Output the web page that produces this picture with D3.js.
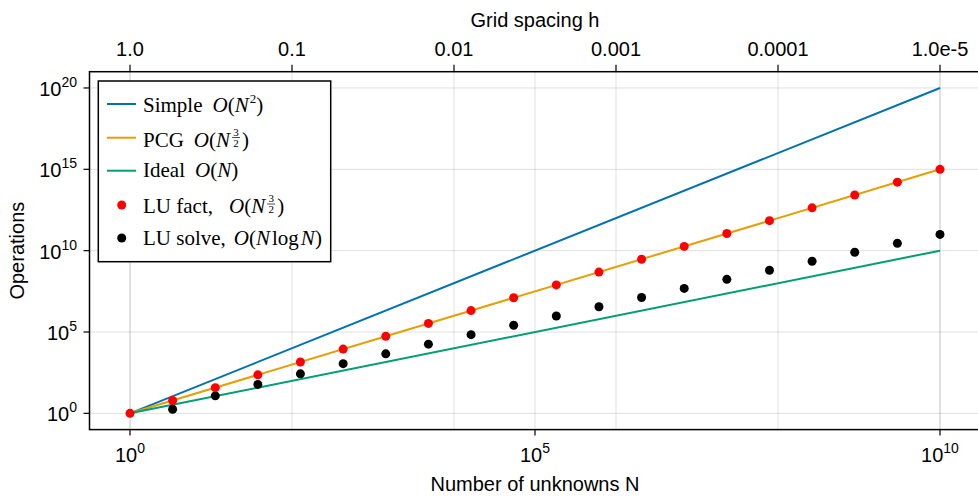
<!DOCTYPE html>
<html>
<head>
<meta charset="utf-8">
<script src="https://cdn.jsdelivr.net/npm/d3@7"></script>
<style>
  body { margin: 0; background: #fff; }
  svg { display: block; }
</style>
</head>
<body>
<svg id="plotSvg"></svg>
<script>
// problem sizes N (log spaced)
var unknowns = [1, 3.36, 11.3, 37.9, 127, 428, 1438, 4833, 16238, 54556, 183298,
  615848, 2069138, 6951928, 23357215, 78475997, 263665090, 885866790, 2976351442, 1e10];
var luFact = [1, 6.16, 37.9, 233, 1438, 8859, 54556, 3.36e5, 2.07e6, 1.27e7, 7.85e7,
  4.83e8, 2.98e9, 1.83e10, 1.13e11, 6.95e11, 4.28e12, 2.64e13, 1.62e14, 1e15];
var luSolve = [null, 1.77, 11.9, 59.9, 268, 1127, 4541, 17805, 68370, 258400, 964700,
  3.57e6, 1.31e7, 4.76e7, 1.72e8, 6.20e8, 2.22e9, 7.93e9, 2.82e10, 1e11];
// straight reference lines (endpoints)
var lineN = [1, 1e10];
var simpleOps = [1, 1e20];
var pcgOps = [1, 1e15];
var idealOps = [1, 1e10];

var bottomTicks = [1, 1e5, 1e10];
var bottomTickExp = ["0", "5", "10"];
var leftTicks = [1, 1e5, 1e10, 1e15, 1e20];
var leftTickExp = ["0", "5", "10", "15", "20"];
var topTicks = [1, 0.1, 0.01, 0.001, 0.0001, 1e-5];
var topTickLabels = ["1.0", "0.1", "0.01", "0.001", "0.0001", "1.0e-5"];

var W = 978, H = 496;
var svg = d3.select("#plotSvg").attr("width", W).attr("height", H);
var sans = "'Liberation Sans', Arial, sans-serif";
var serif = "'Liberation Serif', 'DejaVu Serif', serif";

var pL = 89.5, pR = 980.5, pT = 71.7, pB = 429.6;

var x = d3.scaleLog().domain([Math.pow(10, -0.5), Math.pow(10, 10.5)]).range([pL, pR]);
var y = d3.scaleLog().domain([Math.pow(10, -1), Math.pow(10, 21)]).range([pB, pT]);
// h = 1/sqrt(N)
var xh = d3.scaleLog().domain([Math.pow(10, 0.25), Math.pow(10, -5.25)]).range([pL, pR]);

var g = svg.append("g");

// grid
function vgrid(data, sc) {
  g.selectAll(null).data(data).enter().append("line")
    .attr("x1", function(d) { return sc(d); }).attr("x2", function(d) { return sc(d); })
    .attr("y1", pT).attr("y2", pB)
    .attr("stroke", "#000").attr("stroke-opacity", 0.12).attr("stroke-width", 1);
}
vgrid(bottomTicks, x);
vgrid(topTicks, xh);
g.selectAll(null).data(leftTicks).enter().append("line")
  .attr("x1", pL).attr("x2", pR)
  .attr("y1", function(d) { return y(d); }).attr("y2", function(d) { return y(d); })
  .attr("stroke", "#000").attr("stroke-opacity", 0.12).attr("stroke-width", 1);

// lines
var line = d3.line()
  .x(function(d) { return x(d[0]); })
  .y(function(d) { return y(d[1]); });
var lines = [
  { ops: simpleOps, color: "#0072b2" },
  { ops: pcgOps, color: "#e69f00" },
  { ops: idealOps, color: "#009e73" }
];
lines.forEach(function(l) {
  g.append("path")
    .attr("d", line(d3.zip(lineN, l.ops)))
    .attr("fill", "none")
    .attr("stroke", l.color)
    .attr("stroke-width", 2);
});

// markers
g.selectAll(null).data(d3.zip(unknowns, luSolve).filter(function(d) { return d[1]; }))
  .enter().append("circle")
  .attr("cx", function(d) { return x(d[0]); })
  .attr("cy", function(d) { return y(d[1]); })
  .attr("r", 4.5).attr("fill", "#000");
g.selectAll(null).data(d3.zip(unknowns, luFact))
  .enter().append("circle")
  .attr("cx", function(d) { return x(d[0]); })
  .attr("cy", function(d) { return y(d[1]); })
  .attr("r", 4.5).attr("fill", "#ff0000");

// frame
g.append("rect").attr("x", pL).attr("y", pT)
  .attr("width", pR - pL).attr("height", pB - pT)
  .attr("fill", "none").attr("stroke", "#000").attr("stroke-width", 1.5);

var tfs = 20;
// bottom axis
bottomTicks.forEach(function(t, i) {
  var px = x(t);
  g.append("line").attr("x1", px).attr("x2", px).attr("y1", pB).attr("y2", pB + 6)
    .attr("stroke", "#000").attr("stroke-width", 1.2);
  var tx = g.append("text").attr("x", px).attr("y", 462)
    .attr("font-family", sans).attr("font-size", tfs).attr("text-anchor", "middle");
  tx.append("tspan").text("10");
  tx.append("tspan").attr("dy", -9).attr("font-size", 14).text(bottomTickExp[i]);
});
// left axis
leftTicks.forEach(function(t, i) {
  var py = y(t);
  g.append("line").attr("x1", pL - 6).attr("x2", pL).attr("y1", py).attr("y2", py)
    .attr("stroke", "#000").attr("stroke-width", 1.2);
  var tx = g.append("text").attr("x", 77).attr("y", py + 8)
    .attr("font-family", sans).attr("font-size", tfs).attr("text-anchor", "end");
  tx.append("tspan").text("10");
  tx.append("tspan").attr("dy", -9).attr("font-size", 14).text(leftTickExp[i]);
});
// top axis
topTicks.forEach(function(t, i) {
  var px = xh(t);
  g.append("line").attr("x1", px).attr("x2", px).attr("y1", pT - 7).attr("y2", pT)
    .attr("stroke", "#000").attr("stroke-width", 1.2);
  g.append("text").attr("x", px).attr("y", 56)
    .attr("font-family", sans).attr("font-size", tfs).attr("text-anchor", "middle")
    .text(topTickLabels[i]);
});

// axis titles
svg.append("text").attr("x", 535).attr("y", 27)
  .attr("font-family", sans).attr("font-size", tfs).attr("text-anchor", "middle")
  .text("Grid spacing h");
svg.append("text").attr("x", 535).attr("y", 491)
  .attr("font-family", sans).attr("font-size", tfs).attr("text-anchor", "middle")
  .text("Number of unknowns N");
svg.append("text").attr("transform", "translate(24," + ((pT + pB) / 2) + ") rotate(-90)")
  .attr("font-family", sans).attr("font-size", tfs).attr("text-anchor", "middle")
  .text("Operations");

// legend
var lg = svg.append("g");
lg.append("rect").attr("x", 98.3).attr("y", 81).attr("width", 232.4).attr("height", 180.7)
  .attr("fill", "#fff").attr("stroke", "#000").attr("stroke-width", 1.5);

var fs = 21;
function label(yb, parts) {
  var t = lg.append("text").attr("x", 143).attr("y", yb)
    .attr("font-family", serif).attr("font-size", fs);
  parts.forEach(function(p) {
    var s = t.append("tspan").text(p.t);
    if (p.i) s.attr("font-style", "italic");
    if (p.dy) s.attr("dy", p.dy);
    if (p.fs) s.attr("font-size", p.fs);
    if (p.dx) s.attr("dx", p.dx);
  });
  return t;
}
function frac(t) {
  // stacked 3/2 after the text node
  var bb = t.node().getBBox();
  var yb = +t.attr("y");
  var fx = bb.x + bb.width + 1;
  lg.append("text").attr("x", fx + 4).attr("y", yb - 11).attr("font-family", serif)
    .attr("font-size", 11).attr("text-anchor", "middle").text("3");
  lg.append("line").attr("x1", fx).attr("x2", fx + 8).attr("y1", yb - 9).attr("y2", yb - 9)
    .attr("stroke", "#000").attr("stroke-width", 0.7);
  lg.append("text").attr("x", fx + 4).attr("y", yb).attr("font-family", serif)
    .attr("font-size", 11).attr("text-anchor", "middle").text("2");
  lg.append("text").attr("x", fx + 10).attr("y", yb).attr("font-family", serif)
    .attr("font-size", fs).text(")");
}

var legendLines = [
  { y: 104, color: "#0072b2" },
  { y: 137.7, color: "#e69f00" },
  { y: 170.7, color: "#009e73" }
];
legendLines.forEach(function(l) {
  lg.append("line").attr("x1", 107).attr("x2", 136).attr("y1", l.y).attr("y2", l.y)
    .attr("stroke", l.color).attr("stroke-width", 2);
});
lg.append("circle").attr("cx", 121.7).attr("cy", 205).attr("r", 4.5).attr("fill", "#ff0000");
lg.append("circle").attr("cx", 121.7).attr("cy", 238).attr("r", 4.5).attr("fill", "#000");

label(111.5, [{ t: "Simple" }, { t: "O", i: 1, dx: 10 }, { t: "(" }, { t: "N", i: 1 },
  { t: "2", fs: 13, dy: -9, dx: 1 }, { t: ")", dy: 9 }]);
frac(label(146.5, [{ t: "PCG" }, { t: "O", i: 1, dx: 10 }, { t: "(" }, { t: "N", i: 1 }]));
label(177, [{ t: "Ideal" }, { t: "O", i: 1, dx: 10 }, { t: "(" }, { t: "N", i: 1 }, { t: ")" }]);
frac(label(213, [{ t: "LU fact," }, { t: "O", i: 1, dx: 16 }, { t: "(" }, { t: "N", i: 1 }]));
label(245, [{ t: "LU solve," }, { t: "O", i: 1, dx: 8 }, { t: "(" }, { t: "N", i: 1 },
  { t: "log", dx: 2 }, { t: "N", i: 1, dx: 2 }, { t: ")" }]);
</script>
</body>
</html>
